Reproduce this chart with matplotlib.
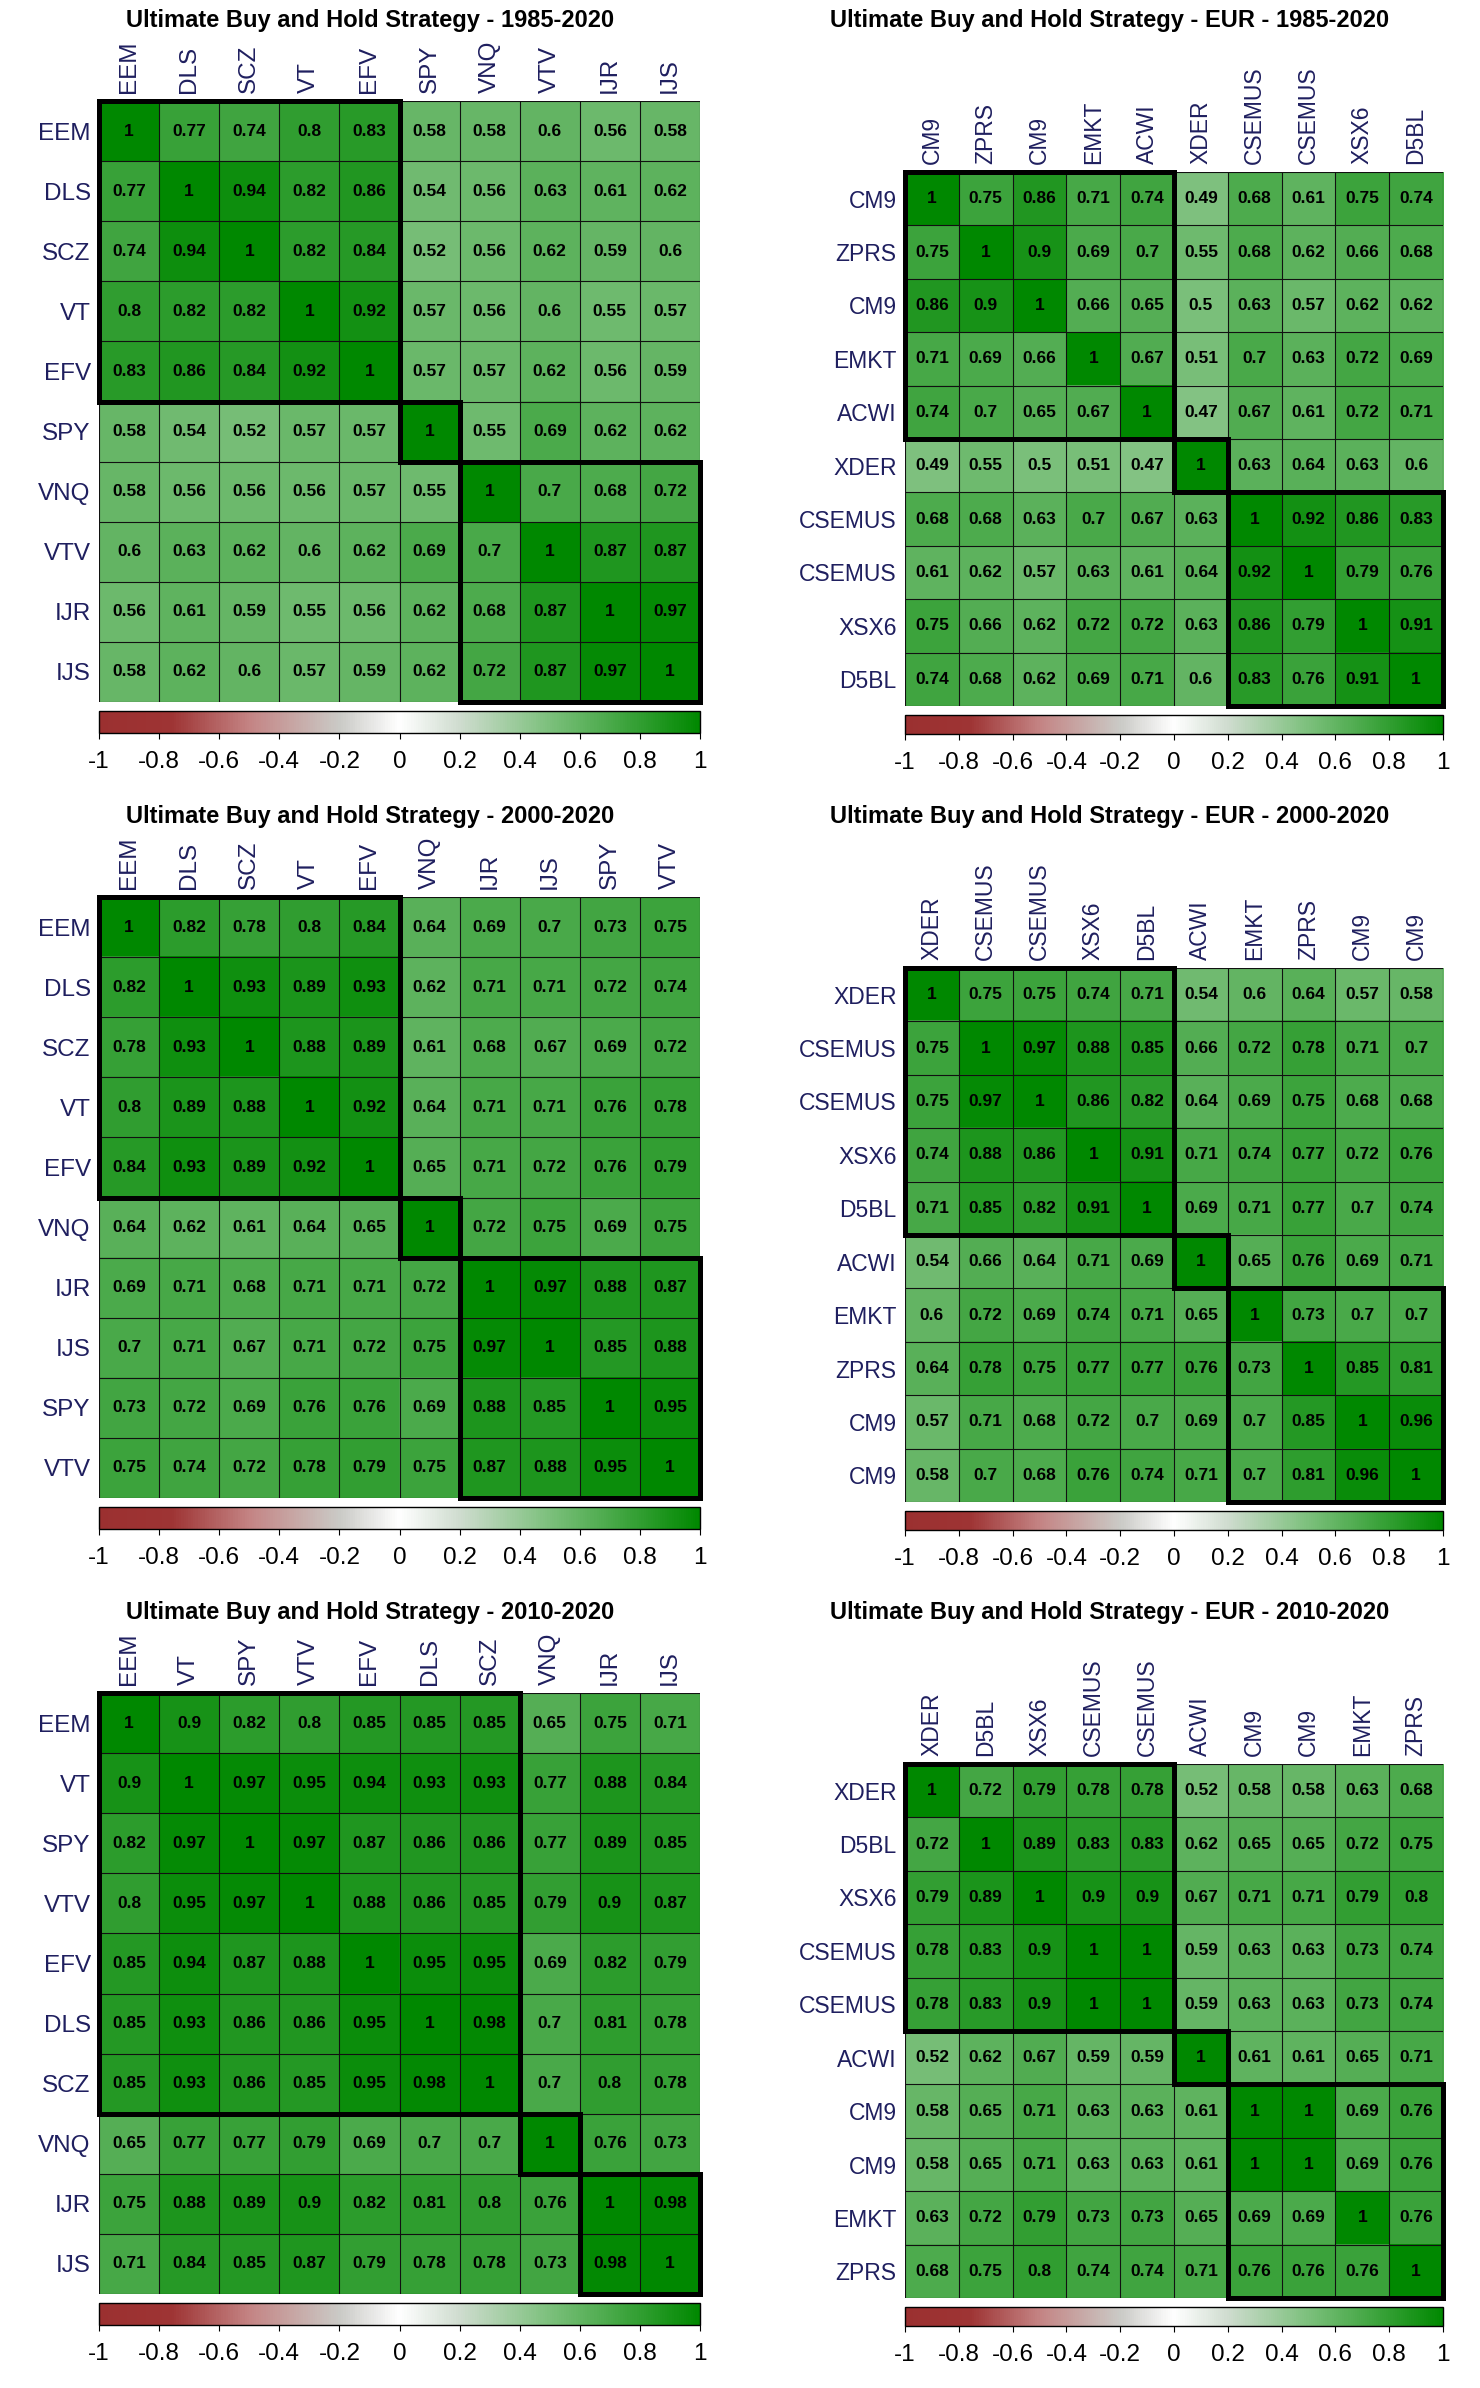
import numpy as np
import matplotlib
matplotlib.use("Agg")
import matplotlib.pyplot as plt
from matplotlib.colors import LinearSegmentedColormap, Normalize
from matplotlib.patches import Rectangle
import matplotlib.cm as cm

plt.rcParams['font.family'] = ['Liberation Sans', 'DejaVu Sans']
NARROW = ['Liberation Sans Narrow', 'Liberation Sans', 'DejaVu Sans']

# ---- data -------------------------------------------------------------
titles = [
    "Ultimate Buy and Hold Strategy - 1985-2020",
    "Ultimate Buy and Hold Strategy - EUR - 1985-2020",
    "Ultimate Buy and Hold Strategy - 2000-2020",
    "Ultimate Buy and Hold Strategy - EUR - 2000-2020",
    "Ultimate Buy and Hold Strategy - 2010-2020",
    "Ultimate Buy and Hold Strategy - EUR - 2010-2020",
]

labels_us_85 = ["EEM", "DLS", "SCZ", "VT", "EFV", "SPY", "VNQ", "VTV", "IJR", "IJS"]
corr_us_85 = [
    [1, .77, .74, .8, .83, .58, .58, .6, .56, .58],
    [.77, 1, .94, .82, .86, .54, .56, .63, .61, .62],
    [.74, .94, 1, .82, .84, .52, .56, .62, .59, .6],
    [.8, .82, .82, 1, .92, .57, .56, .6, .55, .57],
    [.83, .86, .84, .92, 1, .57, .57, .62, .56, .59],
    [.58, .54, .52, .57, .57, 1, .55, .69, .62, .62],
    [.58, .56, .56, .56, .57, .55, 1, .7, .68, .72],
    [.6, .63, .62, .6, .62, .69, .7, 1, .87, .87],
    [.56, .61, .59, .55, .56, .62, .68, .87, 1, .97],
    [.58, .62, .6, .57, .59, .62, .72, .87, .97, 1],
]
clusters_us_85 = [5, 1, 4]

labels_eu_85 = ["CM9", "ZPRS", "CM9", "EMKT", "ACWI", "XDER", "CSEMUS", "CSEMUS", "XSX6", "D5BL"]
corr_eu_85 = [
    [1, .75, .86, .71, .74, .49, .68, .61, .75, .74],
    [.75, 1, .9, .69, .7, .55, .68, .62, .66, .68],
    [.86, .9, 1, .66, .65, .5, .63, .57, .62, .62],
    [.71, .69, .66, 1, .67, .51, .7, .63, .72, .69],
    [.74, .7, .65, .67, 1, .47, .67, .61, .72, .71],
    [.49, .55, .5, .51, .47, 1, .63, .64, .63, .6],
    [.68, .68, .63, .7, .67, .63, 1, .92, .86, .83],
    [.61, .62, .57, .63, .61, .64, .92, 1, .79, .76],
    [.75, .66, .62, .72, .72, .63, .86, .79, 1, .91],
    [.74, .68, .62, .69, .71, .6, .83, .76, .91, 1],
]
clusters_eu_85 = [5, 1, 4]

labels_us_00 = ["EEM", "DLS", "SCZ", "VT", "EFV", "VNQ", "IJR", "IJS", "SPY", "VTV"]
corr_us_00 = [
    [1, .82, .78, .8, .84, .64, .69, .7, .73, .75],
    [.82, 1, .93, .89, .93, .62, .71, .71, .72, .74],
    [.78, .93, 1, .88, .89, .61, .68, .67, .69, .72],
    [.8, .89, .88, 1, .92, .64, .71, .71, .76, .78],
    [.84, .93, .89, .92, 1, .65, .71, .72, .76, .79],
    [.64, .62, .61, .64, .65, 1, .72, .75, .69, .75],
    [.69, .71, .68, .71, .71, .72, 1, .97, .88, .87],
    [.7, .71, .67, .71, .72, .75, .97, 1, .85, .88],
    [.73, .72, .69, .76, .76, .69, .88, .85, 1, .95],
    [.75, .74, .72, .78, .79, .75, .87, .88, .95, 1],
]
clusters_us_00 = [5, 1, 4]

labels_eu_00 = ["XDER", "CSEMUS", "CSEMUS", "XSX6", "D5BL", "ACWI", "EMKT", "ZPRS", "CM9", "CM9"]
corr_eu_00 = [
    [1, .75, .75, .74, .71, .54, .6, .64, .57, .58],
    [.75, 1, .97, .88, .85, .66, .72, .78, .71, .7],
    [.75, .97, 1, .86, .82, .64, .69, .75, .68, .68],
    [.74, .88, .86, 1, .91, .71, .74, .77, .72, .76],
    [.71, .85, .82, .91, 1, .69, .71, .77, .7, .74],
    [.54, .66, .64, .71, .69, 1, .65, .76, .69, .71],
    [.6, .72, .69, .74, .71, .65, 1, .73, .7, .7],
    [.64, .78, .75, .77, .77, .76, .73, 1, .85, .81],
    [.57, .71, .68, .72, .7, .69, .7, .85, 1, .96],
    [.58, .7, .68, .76, .74, .71, .7, .81, .96, 1],
]
clusters_eu_00 = [5, 1, 4]

labels_us_10 = ["EEM", "VT", "SPY", "VTV", "EFV", "DLS", "SCZ", "VNQ", "IJR", "IJS"]
corr_us_10 = [
    [1, .9, .82, .8, .85, .85, .85, .65, .75, .71],
    [.9, 1, .97, .95, .94, .93, .93, .77, .88, .84],
    [.82, .97, 1, .97, .87, .86, .86, .77, .89, .85],
    [.8, .95, .97, 1, .88, .86, .85, .79, .9, .87],
    [.85, .94, .87, .88, 1, .95, .95, .69, .82, .79],
    [.85, .93, .86, .86, .95, 1, .98, .7, .81, .78],
    [.85, .93, .86, .85, .95, .98, 1, .7, .8, .78],
    [.65, .77, .77, .79, .69, .7, .7, 1, .76, .73],
    [.75, .88, .89, .9, .82, .81, .8, .76, 1, .98],
    [.71, .84, .85, .87, .79, .78, .78, .73, .98, 1],
]
clusters_us_10 = [7, 1, 2]

labels_eu_10 = ["XDER", "D5BL", "XSX6", "CSEMUS", "CSEMUS", "ACWI", "CM9", "CM9", "EMKT", "ZPRS"]
corr_eu_10 = [
    [1, .72, .79, .78, .78, .52, .58, .58, .63, .68],
    [.72, 1, .89, .83, .83, .62, .65, .65, .72, .75],
    [.79, .89, 1, .9, .9, .67, .71, .71, .79, .8],
    [.78, .83, .9, 1, 1, .59, .63, .63, .73, .74],
    [.78, .83, .9, 1, 1, .59, .63, .63, .73, .74],
    [.52, .62, .67, .59, .59, 1, .61, .61, .65, .71],
    [.58, .65, .71, .63, .63, .61, 1, 1, .69, .76],
    [.58, .65, .71, .63, .63, .61, 1, 1, .69, .76],
    [.63, .72, .79, .73, .73, .65, .69, .69, 1, .76],
    [.68, .75, .8, .74, .74, .71, .76, .76, .76, 1],
]
clusters_eu_10 = [5, 1, 5 - 1]

cbar_ticks = [-1, -0.8, -0.6, -0.4, -0.2, 0, 0.2, 0.4, 0.6, 0.8, 1]
cbar_ticklabels = ["-1", "-0.8", "-0.6", "-0.4", "-0.2", "0", "0.2", "0.4", "0.6", "0.8", "1"]

panels = [
    (titles[0], labels_us_85, corr_us_85, clusters_us_85),
    (titles[1], labels_eu_85, corr_eu_85, clusters_eu_85),
    (titles[2], labels_us_00, corr_us_00, clusters_us_00),
    (titles[3], labels_eu_00, corr_eu_00, clusters_eu_00),
    (titles[4], labels_us_10, corr_us_10, clusters_us_10),
    (titles[5], labels_eu_10, corr_eu_10, clusters_eu_10),
]

# ---- style ------------------------------------------------------------
cmap = LinearSegmentedColormap.from_list(
    "corr", [(0.0, "#9B3030"), (0.12, "#9E3434"), (0.25, "#C48484"),
             (0.4, "#CACAC6"), (0.5, "#FFFFFF"), (0.6, "#CFDCCF"),
             (0.75, "#7CC07C"), (1.0, "#008800")])
norm = Normalize(-1, 1)
LABEL_COL = "#1F1F5F"

W, H = 1480, 2388
PITCH = 796


def px_rect(x, top, w, h):
    return [x / W, 1 - (top + h) / H, w / W, h / H]


fig = plt.figure(figsize=(W / 100, H / 100), dpi=100)

for k, (title, labels, corr, clusters) in enumerate(panels):
    row, col = divmod(k, 2)
    mat = np.array(corr, dtype=float)
    n = len(labels)
    if col == 0:
        hx, htop, hw, hh = 99, 101 + PITCH * row, 601, 601
        cb_h, lab_fs = 22, 17.5
        cx = 370
    else:
        hx, htop, hw, hh = 905, 172 + PITCH * row, 538, 534
        cb_h, lab_fs = 19, 16.5
        cx = 1110

    fig.text(cx / W, 1 - (21 + PITCH * row) / H, title, ha="center", va="center",
             fontsize=17, fontweight="bold", family=NARROW)

    ax = fig.add_axes(px_rect(hx, htop, hw, hh))
    ax.imshow(mat, cmap=cmap, norm=norm, aspect="auto", interpolation="nearest",
              extent=(0, n, n, 0))
    for i in range(n + 1):
        ax.axhline(i, color="#111111", lw=0.8)
        ax.axvline(i, color="#111111", lw=0.8)
    for i in range(n):
        for j in range(n):
            ax.text(j + 0.5, i + 0.5, f"{mat[i, j]:g}", ha="center", va="center",
                    fontsize=12.5, fontweight="bold", family=NARROW, color="black")
    start = 0
    for size in clusters:
        ax.add_patch(Rectangle((start, start), size, size, fill=False,
                               edgecolor="black", lw=3.6, clip_on=False, zorder=5))
        start += size
    ax.set_xlim(0, n)
    ax.set_ylim(n, 0)
    ax.set_xticks(np.arange(n) + 0.5)
    ax.set_yticks(np.arange(n) + 0.5)
    ax.xaxis.tick_top()
    ax.set_xticklabels(labels, rotation=90, fontsize=lab_fs, color=LABEL_COL)
    ax.set_yticklabels(labels, fontsize=lab_fs, color=LABEL_COL)
    ax.tick_params(length=0, pad=6)
    for s in ax.spines.values():
        s.set_visible(False)

    cax = fig.add_axes(px_rect(hx, htop + hh + 9, hw, cb_h))
    cb = fig.colorbar(cm.ScalarMappable(norm=norm, cmap=cmap), cax=cax,
                      orientation="horizontal", ticks=cbar_ticks)
    cb.set_ticklabels(cbar_ticklabels)
    cb.outline.set_linewidth(1.0)
    cax.tick_params(labelsize=17.5, length=4, width=0.8, pad=9)

fig.savefig("out.png", dpi=100, facecolor="white")
